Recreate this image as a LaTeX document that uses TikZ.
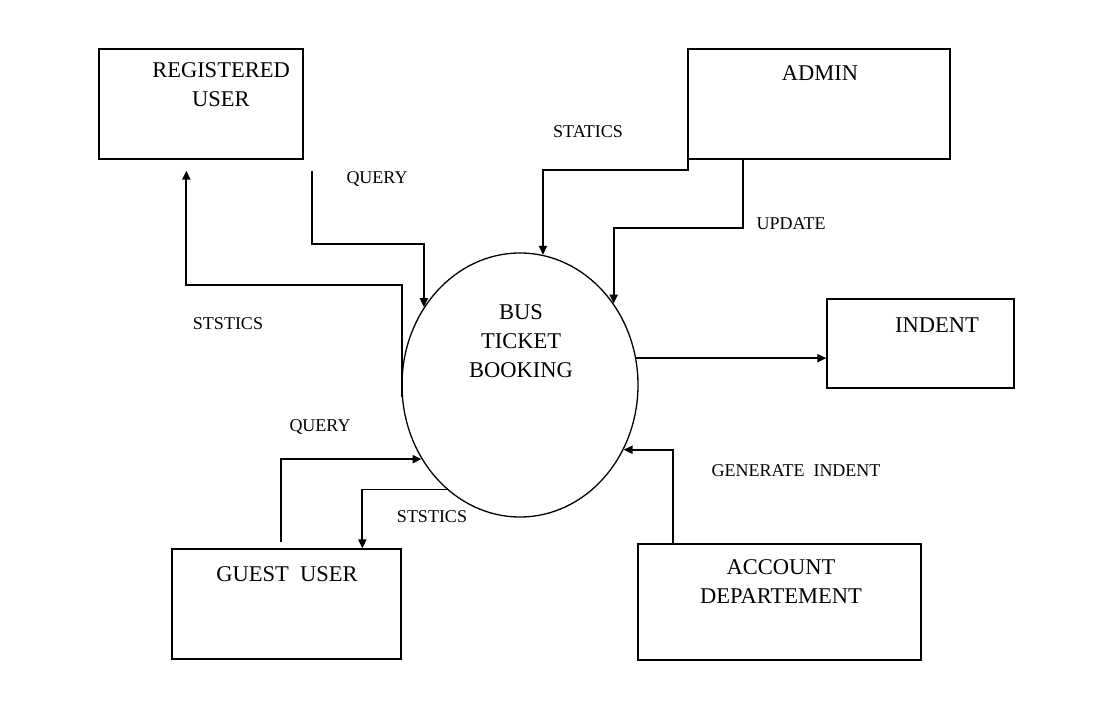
\documentclass[tikz,border=0pt]{standalone}
\usepackage{fontspec}
\setmainfont{Liberation Serif}
\usetikzlibrary{shapes.geometric,arrows.meta,calc}

\begin{document}
\begin{tikzpicture}[x=1pt,y=-1pt,
  box/.style={draw,line width=1.3pt,inner sep=0pt},
  boxtext/.style={anchor=base,align=center,font=\fontsize{22.5}{29}\selectfont},
  lbl/.style={anchor=base,font=\fontsize{18}{22}\selectfont},
  flow/.style={line width=1.9pt,-{Triangle[length=9pt,width=8pt]}}]
\useasboundingbox (0,0) rectangle (1096,720);
% boxes and the process
\node[box,minimum width=204pt,minimum height=110pt] (ru) at (201,104) {};
\node[box,minimum width=262pt,minimum height=110pt] (admin) at (819,104) {};
\node[box,minimum width=187pt,minimum height=89pt] (indent) at (920.5,343.5) {};
\node[box,minimum width=229pt,minimum height=110pt] (gu) at (286.5,604) {};
\node[box,minimum width=283pt,minimum height=116pt] (ad) at (779.5,602) {};
\node[box,ellipse,minimum width=236pt,minimum height=264pt] (bus) at (520,385) {};
\node[boxtext] (rutext) at (221,106) {REGISTERED\\USER};
\node[boxtext] (admintext) at (820,80) {ADMIN};
\node[boxtext] (indenttext) at (937,332) {INDENT};
\node[boxtext] (gutext) at (287,581) {GUEST\ \ USER};
\node[boxtext] (adtext) at (781,603) {ACCOUNT\\DEPARTEMENT};
\node[boxtext] (bustext) at (521,377) {BUS\\TICKET\\BOOKING};
% flows
\draw[flow] ($(ru.south west)+(214,11)$) -- ++(0,73) -| (bus.141);
\draw[flow] (bus.186) -- ++(0,-112) -| ($(ru.south west)+(88,11)$);
\draw[flow] ($(admin.north west)+(1,41)$) -- ++(0,81) -| (bus.80);
\draw[flow] ($(admin.south west)+(56,0)$) -- ++(0,68) -| (bus.41);
\draw[flow] (bus.13) -- (bus.13 -| indent.west);
\draw[flow] ($(ad.north west)+(36,0)$) |- (bus.-32);
\draw[flow] ($(gu.north west)+(110,-6)$) |- (bus.217);
\draw[flow] (bus.235) -| ($(gu.north west)+(191,0)$);
% labels
\node[lbl] (l1) at (377,183) {QUERY};
\node[lbl] (l2) at (228,329) {STSTICS};
\node[lbl] (l3) at (588,137) {STATICS};
\node[lbl] (l4) at (791,229) {UPDATE};
\node[lbl] (l5) at (796,476) {GENERATE\ \ INDENT};
\node[lbl] (l6) at (320,431) {QUERY};
\node[lbl] (l7) at (432,522) {STSTICS};
\end{tikzpicture}
\end{document}
